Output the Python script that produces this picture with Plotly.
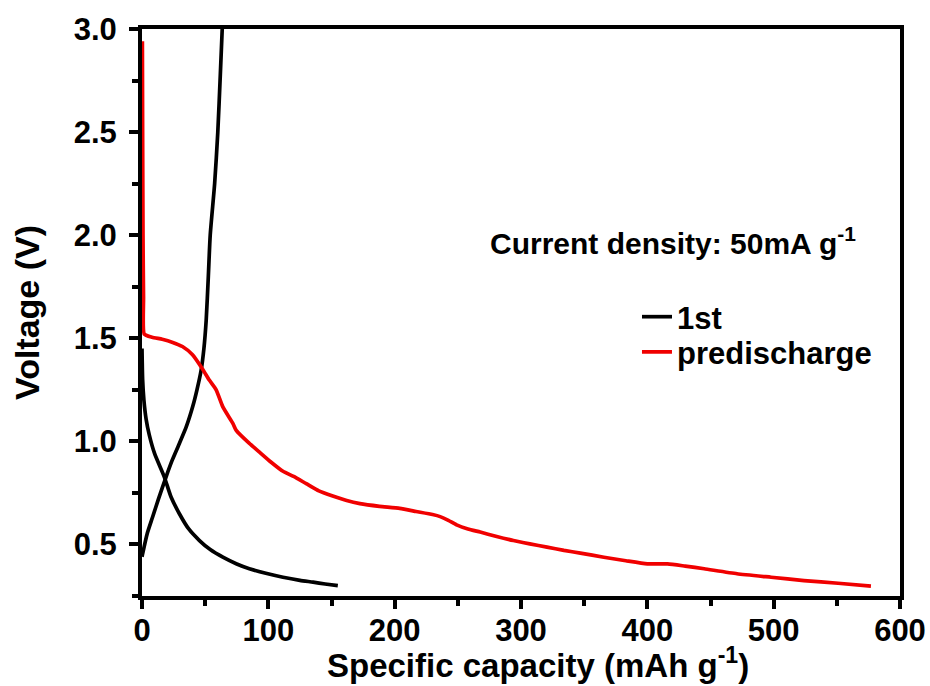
import plotly.graph_objects as go

# 1st cycle - discharge
dis1_cap = [0, 0.5, 1.5, 3.2, 5.8, 10, 17.7, 23, 29.6, 37, 45.5, 54, 64, 75, 85, 98, 111.6, 125, 135.4, 145, 155]
dis1_v = [1.45, 1.30, 1.20, 1.11, 1.03, 0.94, 0.827, 0.73, 0.649, 0.575, 0.519, 0.475, 0.438, 0.405, 0.382, 0.36, 0.341, 0.326, 0.317, 0.308, 0.30]

# 1st cycle - charge
chg1_cap = [0, 0.5, 4, 8.4, 13, 19, 24, 29.6, 35, 40.2, 43.5, 46.8, 49, 50.8, 52.5, 54, 57.5, 60, 62, 63.5]
chg1_v = [0.44, 0.455, 0.55, 0.633, 0.72, 0.827, 0.91, 0.99, 1.07, 1.17, 1.25, 1.345, 1.45, 1.587, 1.8, 2.0, 2.25, 2.5, 2.78, 3.0]

# predischarge
pre_cap = [0.3, 0.5, 0.8, 1.2, 1.8, 8, 16, 24.3, 32, 40, 48, 53.4, 58.7, 64, 72, 74.6, 85, 93, 102, 111.6,
           120, 130, 140, 151, 162, 172.5, 188, 204, 217, 230, 236, 242.5, 249, 258, 267.7, 280, 294, 307,
           320.6, 334, 347, 365.6, 383, 400, 416, 430, 445, 471, 498, 524, 551, 577]
pre_v = [2.94, 2.5, 2.0, 1.7, 1.52, 1.505, 1.495, 1.48, 1.46, 1.42, 1.35, 1.296, 1.25, 1.167, 1.086, 1.053, 0.99, 0.948, 0.90, 0.855,
         0.83, 0.795, 0.76, 0.735, 0.713, 0.698, 0.685, 0.675, 0.66, 0.645, 0.635, 0.617, 0.595, 0.575, 0.56, 0.54, 0.519, 0.503,
         0.487, 0.471, 0.458, 0.438, 0.421, 0.406, 0.406, 0.395, 0.382, 0.358, 0.341, 0.325, 0.312, 0.298]

x_ticks = [0, 100, 200, 300, 400, 500, 600]
y_ticks = [0.5, 1.0, 1.5, 2.0, 2.5, 3.0]
y_ticktext = ["<b>0.5</b>", "<b>1.0</b>", "<b>1.5</b>", "<b>2.0</b>", "<b>2.5</b>", "<b>3.0</b>"]
x_ticktext = ["<b>0</b>", "<b>100</b>", "<b>200</b>", "<b>300</b>", "<b>400</b>", "<b>500</b>", "<b>600</b>"]

FONT = "Liberation Sans, Arial, sans-serif"

fig = go.Figure()
fig.add_trace(go.Scatter(x=dis1_cap, y=dis1_v, mode="lines", name="<b>1st</b>", legend="legend",
                         line=dict(color="black", width=3.7, shape="spline", smoothing=0.6)))
fig.add_trace(go.Scatter(x=chg1_cap, y=chg1_v, mode="lines", name="<b>1st</b>",
                         line=dict(color="black", width=3.7, shape="spline", smoothing=0.6), showlegend=False))
fig.add_trace(go.Scatter(x=pre_cap, y=pre_v, mode="lines", name="<b>predischarge</b>", legend="legend2",
                         line=dict(color="#f00000", width=3.7, shape="spline", smoothing=0.5)))

fig.add_annotation(x=420, y=1.97, xref="x", yref="y", showarrow=False,
                   text="<b>Current density: 50mA g<sup>-1</sup></b>",
                   font=dict(family=FONT, size=30, color="black"))

fig.add_annotation(x=0.523, y=-0.118, xref="paper", yref="paper", showarrow=False,
                   xanchor="center", yanchor="middle",
                   text="<b>Specific capacity (mAh g<sup>-1</sup>)</b>",
                   font=dict(family=FONT, size=33, color="black"))

legend_font = dict(family=FONT, size=31, color="black")

fig.update_layout(
    width=930, height=686,
    margin=dict(l=142, r=30, t=29, b=90),
    paper_bgcolor="white", plot_bgcolor="white",
    font=dict(family=FONT, size=31, color="black"),
    showlegend=True,
    legend=dict(x=0.653, y=0.492, xanchor="left", yanchor="middle",
                bgcolor="rgba(0,0,0,0)", font=legend_font),
    legend2=dict(x=0.653, y=0.430, xanchor="left", yanchor="middle",
                 bgcolor="rgba(0,0,0,0)", font=legend_font),
    xaxis=dict(
        range=[0, 600], tickmode="array", tickvals=x_ticks, ticktext=x_ticktext,
        automargin=False,
        showline=True, linecolor="black", linewidth=4, mirror=True,
        ticks="outside", ticklen=9, tickwidth=3.5, tickcolor="black",
        minor=dict(dtick=50, tick0=0, ticks="outside", ticklen=6, tickwidth=3.5, tickcolor="black"),
        showgrid=False, zeroline=False,
        ticklabelstandoff=-5,
        tickfont=dict(family=FONT, size=31, color="black"),
    ),
    yaxis=dict(
        range=[0.25, 3.0], tickmode="array", tickvals=y_ticks, ticktext=y_ticktext,
        automargin=False,
        showline=True, linecolor="black", linewidth=4, mirror=True,
        ticks="outside", ticklen=9, tickwidth=3.5, tickcolor="black",
        minor=dict(tick0=0.25, dtick=0.25, ticks="outside", ticklen=6, tickwidth=3.5, tickcolor="black"),
        showgrid=False, zeroline=False,
        ticklabelstandoff=6,
        tickfont=dict(family=FONT, size=31, color="black"),
        title=dict(text="<b>Voltage (V)</b>", standoff=25,
                   font=dict(family=FONT, size=34, color="black")),
    ),
)

fig.write_html("out.html")
